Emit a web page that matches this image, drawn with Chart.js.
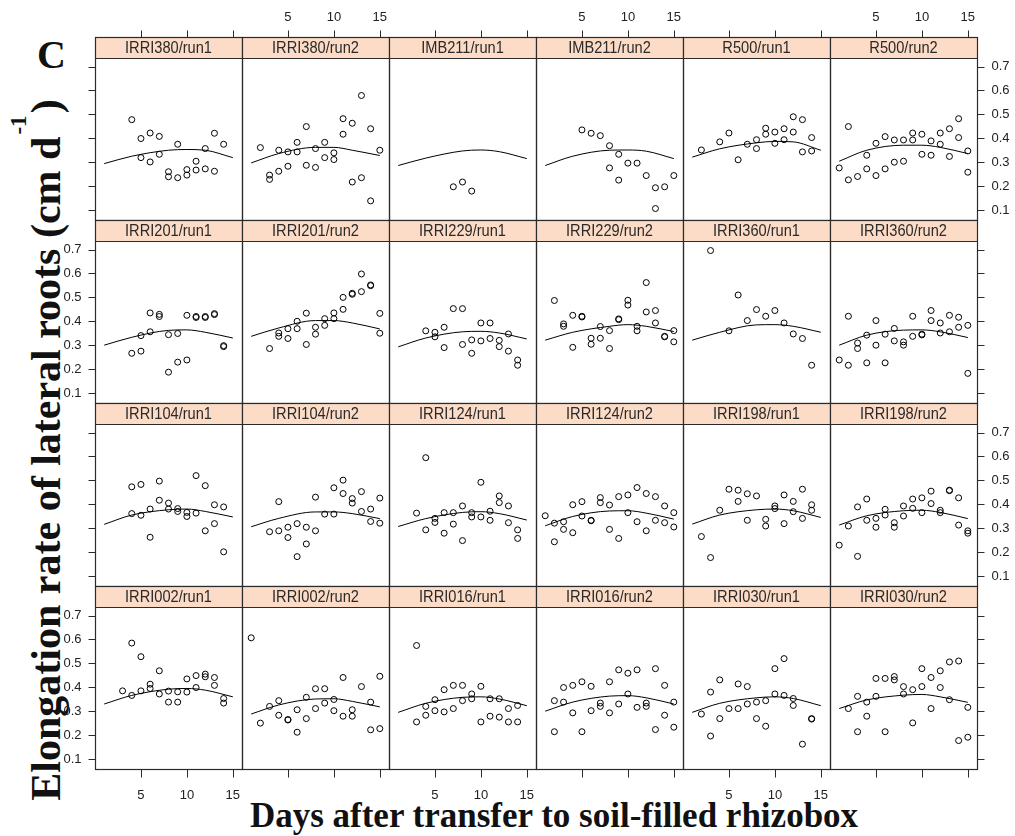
<!DOCTYPE html>
<html>
<head>
<meta charset="utf-8">
<script src="https://cdn.jsdelivr.net/npm/chart.js@4.4.1/dist/chart.umd.min.js"></script>
<style>
  body { margin: 0; background: #fff; }
  #fig { position: relative; width: 1015px; height: 836px; overflow: hidden; background: #fff; }
  #fig canvas { position: absolute; }
  .title { position: absolute; font-family: "Liberation Serif", "Times New Roman", serif; font-weight: bold; color: #111; white-space: nowrap; }
  #panelTag { left: 37px; top: 31px; font-size: 40px; }
  #xTitle { left: 554px; top: 816px; font-size: 35px; transform: translate(-50%, -50%); }
  #yTitle { left: 46px; top: 450px; font-size: 42px; transform: translate(-50%, -50%) rotate(-90deg); }
  #yTitle sup { font-size: 0.55em; vertical-align: baseline; position: relative; top: -34px; margin: 0 2px; }
</style>
</head>
<body>
<div id="fig">
  <div class="title" id="panelTag">C</div>
  <div class="title" id="xTitle">Days after transfer to soil-filled rhizobox</div>
  <div class="title" id="yTitle">Elongation rate of lateral roots (cm d<sup>-1</sup>)</div>
</div>
<script>
// panels, row by row from the top left
const panelLabels = [
  'IRRI380/run1', 'IRRI380/run2', 'IMB211/run1', 'IMB211/run2', 'R500/run1', 'R500/run2',
  'IRRI201/run1', 'IRRI201/run2', 'IRRI229/run1', 'IRRI229/run2', 'IRRI360/run1', 'IRRI360/run2',
  'IRRI104/run1', 'IRRI104/run2', 'IRRI124/run1', 'IRRI124/run2', 'IRRI198/run1', 'IRRI198/run2',
  'IRRI002/run1', 'IRRI002/run2', 'IRRI016/run1', 'IRRI016/run2', 'IRRI030/run1', 'IRRI030/run2'
];

const xTicks = [5, 10, 15];
const yTicks = [0.1, 0.2, 0.3, 0.4, 0.5, 0.6, 0.7];

// observed elongation rates: day after transfer / rate (cm d-1)
const obsDays = [
  [4,5,5,6,6,7,7,8,8,9,9,10,10,11,11,12,12,13,13,14],
  [2,3,3,4,4,5,5,6,6,7,7,8,8,9,9,10,10,11,11,12,12,13,13,14,14,15],
  [7,8,9],
  [5,6,7,8,8,9,9,10,11,12,13,13,14,15],
  [2,4,5,6,7,8,8,9,9,10,10,11,11,12,12,13,13,14,14],
  [1,2,2,3,4,4,5,5,6,6,7,7,8,8,9,9,10,10,11,11,12,12,13,13,14,14,15,15],
  [4,5,5,6,6,7,7,8,8,9,9,10,10,11,11,12,12,13,13,14,14],
  [3,4,4,5,5,6,6,7,7,8,8,9,9,10,10,11,11,12,12,13,13,14,14,15,15],
  [4,5,5,6,6,7,8,8,9,9,10,10,11,11,12,12,13,13,14,14],
  [2,3,3,4,4,5,5,6,6,7,7,8,8,9,9,10,10,11,11,12,12,13,13,14,14,15,15],
  [3,5,6,7,8,9,10,11,12,13,14],
  [1,2,2,3,3,4,4,5,5,6,6,7,7,8,8,9,9,10,10,11,11,12,12,13,13,14,14,15,15],
  [4,4,5,5,6,6,7,7,8,8,9,9,10,10,11,11,12,12,13,13,14,14],
  [3,4,4,5,5,6,6,7,7,8,8,9,10,10,11,11,12,12,13,13,14,14,15,15],
  [3,4,4,5,5,6,6,7,7,8,8,9,9,10,10,11,11,12,12,13,13,14,14],
  [1,2,2,3,3,4,4,5,5,6,6,7,7,8,8,9,9,10,10,11,11,12,12,13,13,14,14,15,15],
  [2,3,4,5,6,6,7,7,8,9,9,10,10,11,11,12,12,13,13,14,14],
  [1,2,3,3,4,4,5,5,6,6,7,7,8,8,9,9,10,10,11,11,12,12,13,13,14,14,15,15],
  [3,4,4,5,5,6,6,7,7,8,8,9,9,10,10,11,11,12,12,13,13,14,14],
  [1,2,3,4,4,5,5,6,6,7,7,8,8,9,9,10,10,11,11,12,12,13,14,14,15,15],
  [3,3,4,4,5,5,6,6,7,7,8,8,9,9,10,10,11,11,12,12,13,13,14,14],
  [2,2,3,3,4,4,5,5,6,6,7,7,8,8,9,9,10,10,11,11,12,12,13,13,14,14,15,15],
  [2,3,3,4,4,5,6,6,7,7,8,8,9,9,10,10,11,11,12,12,13,14,14],
  [2,3,3,4,4,5,5,6,6,7,7,8,8,9,9,10,10,11,11,12,12,13,13,14,14,15,15]
];

const obsRates = [
  [0.478,0.399,0.319,0.422,0.301,0.408,0.333,0.260,0.239,0.375,0.235,0.269,0.246,0.304,0.267,0.357,0.272,0.421,0.262,0.375],
  [0.361,0.246,0.228,0.350,0.262,0.343,0.283,0.343,0.383,0.449,0.287,0.357,0.278,0.383,0.319,0.339,0.311,0.482,0.417,0.463,0.217,0.579,0.235,0.440,0.138,0.350],
  [0.197,0.217,0.179],
  [0.435,0.421,0.411,0.369,0.276,0.333,0.225,0.296,0.296,0.244,0.193,0.106,0.197,0.244],
  [0.351,0.385,0.422,0.310,0.375,0.394,0.357,0.442,0.417,0.426,0.379,0.440,0.394,0.490,0.426,0.478,0.343,0.403,0.347],
  [0.276,0.449,0.226,0.240,0.329,0.272,0.379,0.244,0.407,0.272,0.393,0.300,0.393,0.304,0.422,0.393,0.417,0.333,0.389,0.329,0.422,0.375,0.440,0.324,0.482,0.403,0.347,0.258],
  [0.266,0.275,0.340,0.356,0.435,0.429,0.420,0.344,0.187,0.349,0.229,0.425,0.238,0.420,0.416,0.420,0.416,0.432,0.428,0.298,0.294],
  [0.286,0.351,0.337,0.369,0.328,0.400,0.369,0.434,0.303,0.375,0.346,0.411,0.383,0.435,0.411,0.500,0.450,0.517,0.513,0.598,0.524,0.552,0.549,0.433,0.350],
  [0.360,0.354,0.335,0.375,0.290,0.453,0.453,0.303,0.322,0.266,0.393,0.318,0.393,0.328,0.320,0.294,0.347,0.275,0.238,0.216],
  [0.487,0.389,0.379,0.425,0.291,0.421,0.418,0.329,0.304,0.378,0.329,0.361,0.286,0.410,0.407,0.488,0.468,0.379,0.360,0.562,0.439,0.445,0.393,0.337,0.335,0.361,0.314],
  [0.696,0.360,0.510,0.403,0.449,0.421,0.445,0.393,0.347,0.328,0.216],
  [0.238,0.421,0.216,0.309,0.286,0.342,0.226,0.403,0.300,0.346,0.226,0.370,0.318,0.314,0.300,0.421,0.337,0.346,0.343,0.445,0.403,0.393,0.351,0.425,0.356,0.417,0.375,0.383,0.182],
  [0.473,0.361,0.483,0.354,0.380,0.262,0.497,0.417,0.405,0.380,0.382,0.370,0.366,0.349,0.520,0.363,0.478,0.289,0.398,0.319,0.389,0.201],
  [0.285,0.411,0.289,0.304,0.261,0.319,0.181,0.304,0.234,0.430,0.289,0.359,0.359,0.469,0.501,0.445,0.424,0.405,0.453,0.370,0.380,0.328,0.426,0.321],
  [0.363,0.595,0.293,0.341,0.324,0.365,0.279,0.365,0.317,0.393,0.248,0.365,0.347,0.492,0.347,0.371,0.333,0.435,0.407,0.393,0.323,0.293,0.257],
  [0.352,0.321,0.243,0.327,0.295,0.398,0.281,0.411,0.351,0.333,0.331,0.428,0.407,0.397,0.295,0.432,0.257,0.439,0.365,0.470,0.327,0.445,0.289,0.432,0.333,0.393,0.323,0.365,0.305],
  [0.265,0.177,0.375,0.463,0.459,0.412,0.444,0.333,0.435,0.337,0.309,0.393,0.382,0.439,0.319,0.412,0.369,0.463,0.341,0.398,0.375],
  [0.229,0.309,0.389,0.182,0.422,0.333,0.341,0.304,0.379,0.355,0.323,0.304,0.393,0.351,0.422,0.383,0.427,0.365,0.455,0.403,0.375,0.365,0.459,0.457,0.427,0.313,0.289,0.279],
  [0.385,0.585,0.366,0.528,0.385,0.413,0.395,0.469,0.372,0.384,0.338,0.381,0.338,0.435,0.380,0.449,0.399,0.455,0.444,0.441,0.408,0.353,0.334],
  [0.607,0.250,0.320,0.344,0.283,0.265,0.263,0.306,0.212,0.358,0.269,0.394,0.311,0.394,0.334,0.349,0.302,0.441,0.279,0.306,0.279,0.403,0.338,0.222,0.446,0.227],
  [0.575,0.255,0.320,0.283,0.348,0.302,0.390,0.297,0.408,0.311,0.408,0.344,0.372,0.352,0.404,0.255,0.352,0.279,0.352,0.275,0.311,0.255,0.324,0.255],
  [0.344,0.214,0.399,0.338,0.408,0.293,0.423,0.214,0.404,0.302,0.334,0.320,0.423,0.293,0.473,0.330,0.459,0.372,0.473,0.316,0.334,0.320,0.478,0.223,0.408,0.283,0.338,0.233],
  [0.288,0.380,0.196,0.431,0.269,0.311,0.414,0.311,0.403,0.330,0.338,0.269,0.344,0.237,0.478,0.372,0.520,0.366,0.353,0.324,0.162,0.269,0.267],
  [0.311,0.362,0.214,0.338,0.279,0.437,0.362,0.437,0.214,0.445,0.431,0.403,0.372,0.390,0.251,0.478,0.403,0.441,0.311,0.469,0.399,0.506,0.348,0.510,0.177,0.316,0.191]
];

// fitted trend for each panel, read at these days
const fitDays = [1, 4, 8, 10, 12, 15];
const fitRates = [
  [0.294,0.325,0.350,0.353,0.350,0.319],
  [0.297,0.336,0.362,0.362,0.350,0.328],
  [0.286,0.317,0.347,0.351,0.344,0.315],
  [0.286,0.325,0.350,0.351,0.346,0.315],
  [0.321,0.356,0.381,0.387,0.385,0.350],
  [0.304,0.350,0.371,0.371,0.362,0.336],
  [0.300,0.333,0.362,0.364,0.354,0.330],
  [0.337,0.372,0.403,0.403,0.393,0.368],
  [0.293,0.330,0.356,0.358,0.351,0.326],
  [0.321,0.354,0.379,0.386,0.379,0.357],
  [0.321,0.354,0.385,0.386,0.379,0.354],
  [0.300,0.342,0.363,0.364,0.356,0.332],
  [0.316,0.355,0.377,0.380,0.370,0.347],
  [0.306,0.341,0.368,0.368,0.361,0.340],
  [0.307,0.340,0.366,0.369,0.361,0.334],
  [0.310,0.349,0.372,0.373,0.363,0.338],
  [0.317,0.355,0.377,0.380,0.373,0.345],
  [0.313,0.352,0.373,0.375,0.366,0.340],
  [0.330,0.366,0.392,0.395,0.388,0.360],
  [0.288,0.326,0.351,0.352,0.341,0.318],
  [0.295,0.333,0.358,0.360,0.351,0.323],
  [0.300,0.338,0.363,0.365,0.356,0.330],
  [0.295,0.333,0.356,0.360,0.353,0.323],
  [0.311,0.347,0.367,0.370,0.360,0.337]
];

// grid geometry
const NCOL = 6, NROW = 4;
const LEFT0 = 95, TOP0 = 37;
const COL_W = 147, ROW_H = 183, STRIP_H = 21;
const MARGIN = 45;
const FRAME = '#2b2b2b';
const STRIP_FILL = '#fcdcc6';
const TICK_FONT = '13px "Liberation Sans", Arial, sans-serif';

// strip, frame and alternating axes drawn around every panel
const latticePanel = {
  id: 'latticePanel',
  beforeDatasetsDraw(chart, args, opts) {
    const { ctx, chartArea: a } = chart;
    const w = a.right - a.left;
    ctx.save();
    ctx.fillStyle = STRIP_FILL;
    ctx.fillRect(a.left, a.top - STRIP_H, w, STRIP_H);
    ctx.translate((a.left + a.right) / 2, a.top - STRIP_H / 2 + 1);
    ctx.scale(0.86, 1);
    ctx.font = '17px "Liberation Sans", Arial, sans-serif';
    ctx.fillStyle = '#2a2a2a';
    ctx.textAlign = 'center';
    ctx.textBaseline = 'middle';
    ctx.fillText(opts.label, 0, 0);
    ctx.restore();
  },
  afterDraw(chart, args, opts) {
    const { ctx, chartArea: a, scales } = chart;
    const l = Math.round(a.left) + 0.5, r = Math.round(a.right) + 0.5;
    const t = Math.round(a.top) + 0.5, b = Math.round(a.bottom) + 0.5;
    const st = t - STRIP_H;
    ctx.save();
    ctx.strokeStyle = FRAME;
    ctx.lineWidth = 1.2;
    ctx.strokeRect(l, st, r - l, b - st);
    ctx.beginPath();
    ctx.moveTo(l, t); ctx.lineTo(r, t);
    ctx.stroke();

    ctx.lineWidth = 1;
    ctx.fillStyle = '#222';
    ctx.font = TICK_FONT;
    ctx.beginPath();
    xTicks.forEach(v => {
      const x = Math.round(scales.x.getPixelForValue(v)) + 0.5;
      if (opts.top) { ctx.moveTo(x, st); ctx.lineTo(x, st - 7); }
      if (opts.bottom) { ctx.moveTo(x, b); ctx.lineTo(x, b + 8); }
    });
    yTicks.forEach(v => {
      const y = Math.round(scales.y.getPixelForValue(v)) + 0.5;
      if (opts.left) { ctx.moveTo(l, y); ctx.lineTo(l - 7, y); }
      if (opts.right) { ctx.moveTo(r, y); ctx.lineTo(r + 7, y); }
    });
    ctx.stroke();

    ctx.textBaseline = 'middle';
    ctx.textAlign = 'center';
    xTicks.forEach(v => {
      const x = scales.x.getPixelForValue(v);
      if (opts.topLabels) ctx.fillText(String(v), x, st - 20);
      if (opts.bottomLabels) ctx.fillText(String(v), x, b + 26);
    });
    yTicks.forEach(v => {
      const y = scales.y.getPixelForValue(v);
      if (opts.leftLabels) { ctx.textAlign = 'right'; ctx.fillText(v.toFixed(1), l - 14, y); }
      if (opts.rightLabels) { ctx.textAlign = 'left'; ctx.fillText(v.toFixed(1), r + 14, y); }
    });
    ctx.restore();
  }
};

const fig = document.getElementById('fig');

panelLabels.forEach((label, i) => {
  const row = Math.floor(i / NCOL), col = i % NCOL;
  const canvas = document.createElement('canvas');
  canvas.width = COL_W + 2 * MARGIN;
  canvas.height = ROW_H + 2 * MARGIN;
  canvas.style.left = (LEFT0 + col * COL_W - MARGIN) + 'px';
  canvas.style.top = (TOP0 + row * ROW_H - MARGIN) + 'px';
  fig.appendChild(canvas);

  const points = obsDays[i].map((d, k) => ({ x: d, y: obsRates[i][k] }));
  const fit = fitDays.map((d, k) => ({ x: d, y: fitRates[i][k] }));

  new Chart(canvas, {
    type: 'scatter',
    data: {
      datasets: [
        {
          data: fit,
          showLine: true,
          borderColor: '#000',
          borderWidth: 1,
          pointRadius: 0,
          cubicInterpolationMode: 'monotone'
        },
        {
          data: points,
          pointRadius: 3,
          pointBorderWidth: 1,
          borderColor: '#000',
          backgroundColor: 'rgba(0,0,0,0)'
        }
      ]
    },
    options: {
      responsive: false,
      animation: false,
      events: [],
      layout: { padding: { left: MARGIN, right: MARGIN, top: MARGIN + STRIP_H, bottom: MARGIN } },
      scales: {
        x: { type: 'linear', min: 0, max: 16, display: false },
        y: { type: 'linear', min: 0.058, max: 0.736, display: false }
      },
      plugins: {
        legend: { display: false },
        tooltip: { enabled: false },
        latticePanel: {
          label: label,
          top: row === 0,
          bottom: row === NROW - 1,
          left: col === 0,
          right: col === NCOL - 1,
          topLabels: row === 0 && col % 2 === 1,
          bottomLabels: row === NROW - 1 && col % 2 === 0,
          leftLabels: col === 0 && row % 2 === 1,
          rightLabels: col === NCOL - 1 && row % 2 === 0
        }
      }
    },
    plugins: [latticePanel]
  });
});
</script>
</body>
</html>
